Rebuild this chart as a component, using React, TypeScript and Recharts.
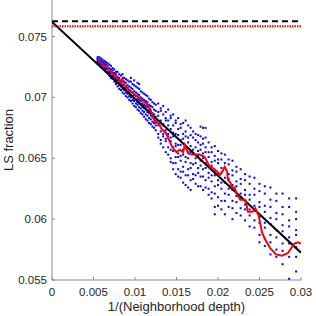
import { ComposedChart, Scatter, XAxis, YAxis } from "recharts";

// 1/(neighborhood depth) columns and the LS fraction samples
const dotX = [
  0.0055, 0.0057, 0.0059, 0.0061, 0.0063, 0.0065, 0.0067, 0.0069, 0.0071, 0.0073,
  0.0075, 0.0077, 0.0079, 0.0081, 0.0083, 0.0085, 0.0087, 0.0089, 0.0091, 0.0093,
  0.0095, 0.0097, 0.0099, 0.0101, 0.0103, 0.0105, 0.0107, 0.0109, 0.0111, 0.0113,
  0.0115, 0.0117, 0.0119, 0.0121, 0.0123, 0.0125, 0.0128, 0.0131, 0.0134, 0.0137,
  0.014, 0.0143, 0.0146, 0.0149, 0.0152, 0.0155, 0.0158, 0.0161, 0.0164, 0.0167,
  0.017, 0.0173, 0.0176, 0.0179, 0.0182, 0.0185, 0.01887, 0.01923, 0.01961, 0.02,
  0.02041, 0.02083, 0.02128, 0.02174, 0.02222, 0.02273, 0.02326, 0.02381, 0.02439, 0.025,
  0.02564, 0.02632, 0.02703, 0.02778, 0.02857, 0.02941,
];

const dotY = [
  [0.0733, 0.0732, 0.0731, 0.073, 0.0729, 0.0728],
  [0.0733, 0.0731, 0.073, 0.0729, 0.0728, 0.0727],
  [0.0732, 0.073, 0.0729, 0.0728, 0.0727, 0.0725],
  [0.0731, 0.0729, 0.0728, 0.0727, 0.0726, 0.0724],
  [0.073, 0.0728, 0.0727, 0.0726, 0.0724, 0.0723],
  [0.0729, 0.0727, 0.0725, 0.0724, 0.0723, 0.0721],
  [0.0728, 0.0726, 0.0724, 0.0723, 0.0721, 0.072],
  [0.0727, 0.0724, 0.0723, 0.0721, 0.072, 0.0718],
  [0.0726, 0.0723, 0.0721, 0.072, 0.0718, 0.0716],
  [0.0724, 0.0722, 0.072, 0.0718, 0.0717, 0.0715],
  [0.0723, 0.072, 0.0718, 0.0717, 0.0715, 0.0713],
  [0.0721, 0.0719, 0.0717, 0.0715, 0.0713, 0.0711],
  [0.0721, 0.0717, 0.0715, 0.0714, 0.0712, 0.0709],
  [0.0719, 0.0716, 0.0714, 0.0712, 0.071, 0.0707],
  [0.0718, 0.0714, 0.0712, 0.0711, 0.0709, 0.0706],
  [0.0719, 0.0716, 0.0713, 0.071, 0.0707, 0.0704],
  [0.0716, 0.0713, 0.071, 0.0708, 0.0706, 0.0703],
  [0.0715, 0.0712, 0.0709, 0.0707, 0.0704, 0.0701],
  [0.0714, 0.071, 0.0708, 0.0705, 0.0703, 0.07],
  [0.0713, 0.0709, 0.0706, 0.0704, 0.0701, 0.0698],
  [0.0716, 0.0713, 0.0708, 0.0705, 0.0702, 0.07, 0.0697],
  [0.0711, 0.0707, 0.0704, 0.0701, 0.0698, 0.0695],
  [0.0714, 0.071, 0.0705, 0.0702, 0.0699, 0.0697, 0.0693],
  [0.0709, 0.0704, 0.0701, 0.0698, 0.0695, 0.0692],
  [0.0712, 0.0708, 0.0703, 0.0699, 0.0696, 0.0694, 0.069],
  [0.0711, 0.0707, 0.0702, 0.0698, 0.0695, 0.0692, 0.0689],
  [0.0705, 0.07, 0.0697, 0.0694, 0.0691, 0.0687],
  [0.0704, 0.0699, 0.0695, 0.0692, 0.0689, 0.0686],
  [0.0703, 0.0698, 0.0694, 0.0691, 0.0688, 0.0684],
  [0.0702, 0.0697, 0.0693, 0.069, 0.0686, 0.0682],
  [0.0701, 0.0696, 0.0692, 0.0688, 0.0685, 0.0681],
  [0.0699, 0.0694, 0.069, 0.0687, 0.0683, 0.0679],
  [0.0698, 0.0693, 0.0689, 0.0685, 0.0682, 0.0678],
  [0.0696, 0.0692, 0.0687, 0.0684, 0.068, 0.0676],
  [0.0695, 0.069, 0.0686, 0.0682, 0.0679, 0.0675],
  [0.0694, 0.0689, 0.0684, 0.0681, 0.0677, 0.0673],
  [0.0695, 0.0688, 0.0685, 0.0679, 0.0677, 0.067, 0.0667],
  [0.0691, 0.0689, 0.0681, 0.0679, 0.0672, 0.0665, 0.0662],
  [0.0693, 0.0686, 0.0678, 0.0677, 0.067, 0.0668, 0.0659],
  [0.0688, 0.0683, 0.0681, 0.0673, 0.0666, 0.0664, 0.0655],
  [0.069, 0.0681, 0.0677, 0.067, 0.0668, 0.0659, 0.0653],
  [0.0685, 0.0683, 0.0674, 0.0667, 0.0664, 0.0657, 0.065, 0.0647],
  [0.0686, 0.0677, 0.0671, 0.0668, 0.0659, 0.0656, 0.0646, 0.0641],
  [0.0681, 0.0679, 0.067, 0.0662, 0.066, 0.0651, 0.0646, 0.0637],
  [0.0683, 0.0674, 0.0669, 0.0661, 0.0654, 0.0651, 0.0641, 0.0635],
  [0.0678, 0.0675, 0.0665, 0.0661, 0.0652, 0.0648, 0.0639, 0.0634],
  [0.0679, 0.067, 0.0666, 0.0657, 0.0653, 0.0643, 0.0639, 0.063],
  [0.0681, 0.0672, 0.0668, 0.0659, 0.0651, 0.0647, 0.0636, 0.0628],
  [0.0677, 0.0667, 0.0663, 0.0655, 0.065, 0.0641, 0.0636, 0.0626],
  [0.0675, 0.0669, 0.066, 0.0655, 0.0646, 0.0642, 0.0632, 0.0624],
  [0.0672, 0.0667, 0.0657, 0.0654, 0.0645, 0.0637, 0.0633],
  [0.067, 0.0665, 0.0659, 0.065, 0.0646, 0.0636, 0.0629],
  [0.0669, 0.0663, 0.0656, 0.0652, 0.0642, 0.0638, 0.0627],
  [0.0676, 0.0668, 0.0661, 0.0657, 0.0648, 0.0644, 0.0635, 0.0627],
  [0.0675, 0.0666, 0.0662, 0.0654, 0.065, 0.0641, 0.0635, 0.0624],
  [0.0675, 0.0667, 0.0659, 0.0655, 0.0646, 0.0642, 0.0632, 0.0626],
  [0.0663, 0.0655, 0.0651, 0.0644, 0.0638, 0.0634, 0.0625, 0.062],
  [0.0659, 0.0655, 0.0647, 0.0644, 0.0636, 0.0631, 0.0622, 0.0617],
  [0.066, 0.0652, 0.0648, 0.064, 0.0636, 0.0627, 0.0621, 0.061, 0.0604],
  [0.0656, 0.0649, 0.0646, 0.0638, 0.0632, 0.0628, 0.0618, 0.0611],
  [0.0654, 0.0649, 0.0642, 0.0638, 0.063, 0.0625, 0.0615, 0.0608],
  [0.0653, 0.0646, 0.0642, 0.0634, 0.063, 0.0621, 0.0615, 0.0604],
  [0.0649, 0.0645, 0.0637, 0.0633, 0.0625, 0.062, 0.061],
  [0.0648, 0.064, 0.0636, 0.0628, 0.0624, 0.0615, 0.0609, 0.06],
  [0.0643, 0.0639, 0.0631, 0.0627, 0.0619, 0.0614, 0.0605],
  [0.0641, 0.0633, 0.0629, 0.0621, 0.0617, 0.0609, 0.0603],
  [0.0637, 0.0632, 0.0624, 0.062, 0.0612, 0.0608, 0.0599],
  [0.0635, 0.0629, 0.062, 0.0616, 0.0608, 0.0603, 0.0594],
  [0.0634, 0.0625, 0.062, 0.0611, 0.0607, 0.0599, 0.0593],
  [0.0629, 0.0623, 0.0614, 0.061, 0.0602, 0.0597, 0.0587, 0.0581],
  [0.0627, 0.0621, 0.0611, 0.0606, 0.0597, 0.0593, 0.0584, 0.0578],
  [0.0626, 0.0616, 0.061, 0.0601, 0.0596, 0.0587, 0.0581, 0.0571],
  [0.0621, 0.0615, 0.0605, 0.06, 0.0591, 0.0585, 0.0575, 0.0569],
  [0.0621, 0.061, 0.0604, 0.0595, 0.059, 0.058, 0.0574, 0.0563],
  [0.0617, 0.061, 0.0599, 0.0594, 0.0585, 0.058, 0.0569, 0.0551],
  [0.0617, 0.0606, 0.06, 0.0591, 0.0587, 0.0577, 0.0569, 0.0557],
];

// red curve (per-depth mean)
const meanX = [
  0.0055, 0.006, 0.0065, 0.007, 0.0075, 0.008, 0.0083, 0.0085, 0.0087, 0.009,
  0.0095, 0.01, 0.0105, 0.011, 0.0115, 0.0118, 0.0122, 0.0125, 0.0128, 0.0132,
  0.0137, 0.0141, 0.0145, 0.015, 0.0154, 0.0158, 0.016, 0.0164, 0.0169, 0.0174,
  0.0178, 0.0184, 0.0187, 0.019, 0.0194, 0.0199, 0.0202, 0.0206, 0.0208, 0.0211,
  0.0212, 0.0215, 0.0217, 0.022, 0.0223, 0.0227, 0.0233, 0.0236, 0.0241, 0.0245,
  0.0249, 0.0253, 0.0257, 0.0263, 0.027, 0.0277, 0.0284, 0.0292, 0.0296, 0.03,
];
const meanY = [
  0.0731, 0.0728, 0.0725, 0.0722, 0.0718, 0.0715, 0.0712, 0.0715, 0.071, 0.0708,
  0.0705, 0.0702, 0.07, 0.0697, 0.0694, 0.0691, 0.0683, 0.0679, 0.068, 0.0674,
  0.0671, 0.0665, 0.0659, 0.0655, 0.0657, 0.0655, 0.0661, 0.0654, 0.0653, 0.0653,
  0.0653, 0.0651, 0.0647, 0.0643, 0.0642, 0.0639, 0.0636, 0.064, 0.0643, 0.0639,
  0.0632, 0.063, 0.0626, 0.0626, 0.062, 0.0616, 0.0616, 0.0606, 0.0606, 0.0609,
  0.0603, 0.0589, 0.0583, 0.0576, 0.0571, 0.057, 0.0572, 0.058, 0.0581, 0.058,
];

// linear fit, and the two limit levels
const fitX = [0, 0.03];
const fitY = [0.0762, 0.05724];
const limitX = [0, 0.03];
const blackLimit = 0.07625;
const redLimit = 0.07585;

const xTicks = [0, 0.005, 0.01, 0.015, 0.02, 0.025, 0.03];
const yTicks = [0.055, 0.06, 0.065, 0.07, 0.075];

const FONT = "'Liberation Sans', Arial, Helvetica, sans-serif";
const TEXT = "#262626";
const AXIS = "#8c8c8c";

const dots = dotX.flatMap((x, i) => dotY[i].map((y) => ({ x, y })));
const meanData = meanX.map((x, i) => ({ x, y: meanY[i] }));
const fitData = fitX.map((x, i) => ({ x, y: fitY[i] }));
const blackLimitData = limitX.map((x) => ({ x, y: blackLimit }));
const redLimitData = limitX.map((x) => ({ x, y: redLimit }));

const Dot = (p: any) => <rect x={p.cx - 1} y={p.cy - 1} width={2} height={2} fill="#0000ff" />;
const NoMark = () => <g />;

// lines are drawn as marker-less scatters so they stack above the dots in order
function LineSeries({ data, stroke, width, dash }: any) {
  return (
    <Scatter
      data={data}
      dataKey="y"
      shape={NoMark}
      line={{ stroke, strokeWidth: width, strokeDasharray: dash, fill: "none" }}
      isAnimationActive={false}
    />
  );
}

export default function App() {
  return (
    <div style={{ position: "absolute", left: 0, top: 0, width: 316, height: 316, background: "#fff" }}>
      <ComposedChart width={316} height={316} margin={{ top: 0, right: 15, bottom: 0, left: 0 }}>
        <XAxis
          dataKey="x"
          type="number"
          domain={[0, 0.03]}
          allowDataOverflow
          ticks={xTicks}
          height={36}
          stroke={AXIS}
          tickSize={-3}
          tickMargin={11}
          tick={{ fill: TEXT, fontSize: 11.5, fontFamily: FONT }}
          label={{
            content: () => (
              <text x={176.5} y={311} textAnchor="middle" fill={TEXT} fontSize={13} fontFamily={FONT}>
                1/(Neighborhood depth)
              </text>
            ),
          }}
        />
        <YAxis
          type="number"
          domain={[0.055, 0.078]}
          allowDataOverflow
          ticks={yTicks}
          width={52}
          stroke={AXIS}
          tickSize={-3}
          tickMargin={8}
          tick={{ fill: TEXT, fontSize: 11.5, fontFamily: FONT }}
          label={{
            content: () => (
              <text
                x={13}
                y={140}
                transform="rotate(-90 13 140)"
                textAnchor="middle"
                fill={TEXT}
                fontSize={13}
                fontFamily={FONT}
              >
                LS fraction
              </text>
            ),
          }}
        />
        <Scatter data={dots} dataKey="y" shape={Dot} isAnimationActive={false} />
        {LineSeries({ data: fitData, stroke: "#000000", width: 2 })}
        {LineSeries({ data: meanData, stroke: "#ff0000", width: 2 })}
        {LineSeries({ data: blackLimitData, stroke: "#000000", width: 2, dash: "6 4" })}
        {LineSeries({ data: redLimitData, stroke: "#ff0000", width: 2, dash: "1.5 1" })}
      </ComposedChart>
    </div>
  );
}
